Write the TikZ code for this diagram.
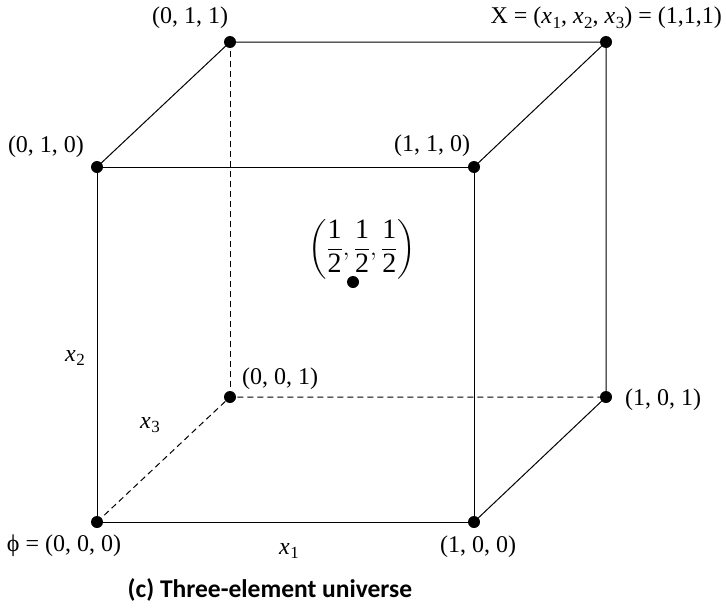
\documentclass[tikz,border=0pt]{standalone}
\usepackage{amsmath}
\usepackage{fontspec}
\setmainfont{Liberation Serif}
\newfontfamily\capfont{Carlito}
\newcommand\xsub[1]{\textit{x}\kern0.02em\raisebox{-0.4ex}{\fontsize{17}{17}\selectfont #1}}
\begin{document}
\begin{tikzpicture}[x=1pt,y=-1pt,
  edge/.style={line width=1pt},
  hidden/.style={line width=1pt,dash pattern=on 6pt off 4pt},
  vtx/.style={circle,fill=black,inner sep=0pt,minimum size=12pt},
  lbl/.style={inner sep=0pt,font=\fontsize{24}{28}\selectfont}]
\useasboundingbox (0,0) rectangle (726,608);
\node[vtx] (o)   at (97,522) {};
\node[vtx] (a)   at (474,522) {};
\node[vtx] (b)   at (97,167) {};
\node[vtx] (ab)  at (474,167) {};
\node[vtx] (c)   at (230,397) {};
\node[vtx] (ac)  at (606,397) {};
\node[vtx] (bc)  at (230,42) {};
\node[vtx] (abc) at (606,42) {};
\node[vtx] (m)   at (353,282) {};
\draw[edge] (o.center) -- (a.center) -- (ab.center) -- (b.center) -- (o.center);
\draw[edge] (b.center) -- (bc.center) -- (abc.center) -- (ab.center);
\draw[edge] (abc.center) -- (ac.center) -- (a.center);
\draw[hidden] (o.center) -- (c.center) -- (ac.center);
\draw[hidden] (c.center) -- (bc.center);
\node[lbl] (lbc) at (190,18) {(0, 1, 1)};
\node[lbl,anchor=east] (labc) at (722,18) {X = (\xsub{1}, \xsub{2}, \xsub{3}) = (1,1,1)};
\node[lbl] (lb) at (46,147) {(0, 1, 0)};
\node[lbl] (lab) at (432,146) {(1, 1, 0)};
\node[lbl,font=\fontsize{28}{32}\selectfont] (lm) at (362,249) {$\displaystyle\left(\frac{\text{1}}{\text{2}},\frac{\text{1}}{\text{2}},\frac{\text{1}}{\text{2}}\right)$};
\node[lbl] (lx2) at (75,358) {\xsub{2}};
\node[lbl] (lc) at (280,379) {(0, 0, 1)};
\node[lbl] (lac) at (663,400) {(1, 0, 1)};
\node[lbl] (lx3) at (150,425) {\xsub{3}};
\node[lbl] (lo) at (64,546) {\char"03D5\ = (0, 0, 0)};
\node[lbl] (lx1) at (289,551) {\xsub{1}};
\node[lbl] (la) at (478,547) {(1, 0, 0)};
\node[inner sep=0pt,font=\capfont\bfseries\fontsize{25.5}{30}\selectfont] (cap) at (270,590) {(c) Three-element universe};
\end{tikzpicture}
\end{document}
